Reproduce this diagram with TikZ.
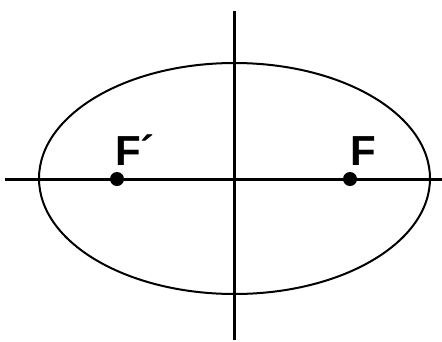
\documentclass[tikz,border=0pt]{standalone}
\usepackage{fontspec}
\setmainfont{Liberation Sans}
\begin{document}
\begin{tikzpicture}[x=1pt,y=-1pt,
    axisline/.style={black, line width=3pt},
    focuslabel/.style={font=\fontsize{42}{42}\selectfont\bfseries, inner sep=0pt}]
    \useasboundingbox (0,0) rectangle (442,341);

    % Ellipse
    \draw[black, line width=2pt] (234.5,178.5) ellipse (195.5 and 115.5);

    % Axes
    \draw[axisline] (5,179) -- (442,179);
    \draw[axisline] (234,11) -- (234,340);

    % Foci
    \coordinate (focL) at (117,179);
    \coordinate (focR) at (350,179);
    \foreach \f in {focL, focR} {
        \fill[black] (\f) circle (7pt);
    }
    \node[focuslabel, anchor=base west] (labL) at (115,165) {F´};
    \node[focuslabel, anchor=base west] (labR) at (350,165) {F};

\end{tikzpicture}
\end{document}
